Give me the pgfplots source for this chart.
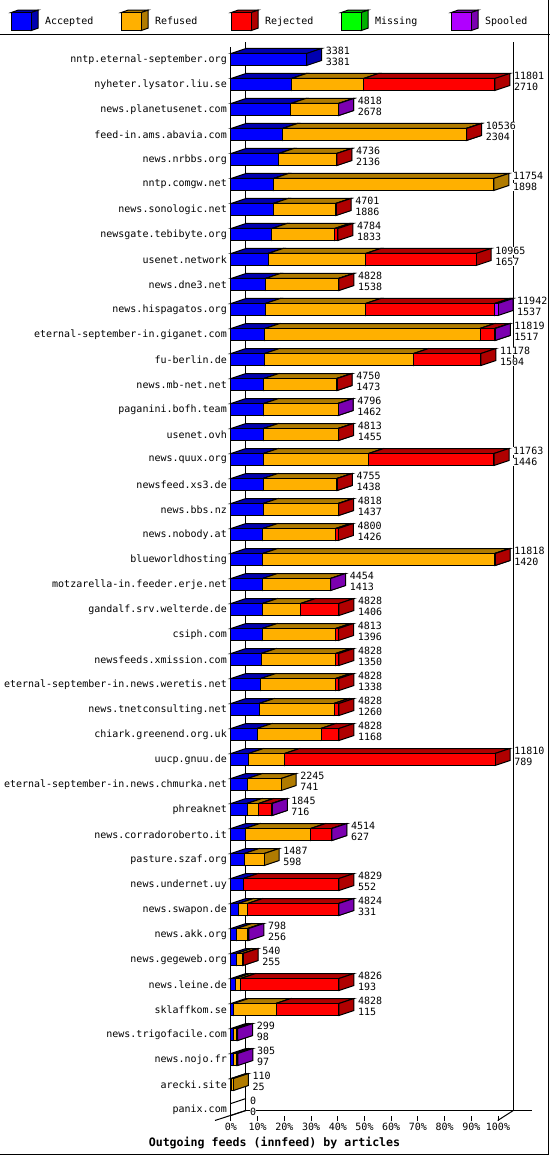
\documentclass[border=0pt]{standalone}
\usepackage{fontspec}
\setmainfont{DejaVu Sans Mono}
\usepackage{pgfplots}
\usepackage{pgfplotstable}
\pgfplotsset{compat=1.18}

% 1 pixel of the reference = 1pt here
\definecolor{acc}{HTML}{0000FF}
\definecolor{accd}{HTML}{0000B0}
\definecolor{ref}{HTML}{FFB000}
\definecolor{refd}{HTML}{B07B00}
\definecolor{rej}{HTML}{FF0000}
\definecolor{rejd}{HTML}{B00000}
\definecolor{mis}{HTML}{00FF00}
\definecolor{misd}{HTML}{00B000}
\definecolor{spo}{HTML}{B000FF}
\definecolor{spod}{HTML}{7B00B0}

\pgfplotstableread{
name total accepted refused rejected missing spooled
nntp.eternal-september.org 3381 3381 0 0 0 0
nyheter.lysator.liu.se 11801 2710 3224 5867 0 0
news.planetusenet.com 4818 2678 2130 0 0 10
feed-in.ams.abavia.com 10536 2304 8212 20 0 0
news.nrbbs.org 4736 2136 2590 10 0 0
nntp.comgw.net 11754 1898 9856 0 0 0
news.sonologic.net 4701 1886 2795 20 0 0
newsgate.tebibyte.org 4784 1833 2804 147 0 0
usenet.network 10965 1657 4367 4941 0 0
news.dne3.net 4828 1538 3263 27 0 0
news.hispagatos.org 11942 1537 4487 5770 0 148
eternal-september-in.giganet.com 11819 1517 9621 660 0 21
fu-berlin.de 11178 1504 6667 3007 0 0
news.mb-net.net 4750 1473 3257 20 0 0
paganini.bofh.team 4796 1462 3324 0 0 10
usenet.ovh 4813 1455 3338 20 0 0
news.quux.org 11763 1446 4712 5605 0 0
newsfeed.xs3.de 4755 1438 3297 20 0 0
news.bbs.nz 4818 1437 3361 20 0 0
news.nobody.at 4800 1426 3256 118 0 0
blueworldhosting 11818 1420 10378 20 0 0
motzarella-in.feeder.erje.net 4454 1413 3031 0 0 10
gandalf.srv.welterde.de 4828 1406 1710 1712 0 0
csiph.com 4813 1396 3286 131 0 0
newsfeeds.xmission.com 4828 1350 3332 146 0 0
eternal-september-in.news.weretis.net 4828 1338 3344 146 0 0
news.tnetconsulting.net 4828 1260 3347 221 0 0
chiark.greenend.org.uk 4828 1168 2858 802 0 0
uucp.gnuu.de 11810 789 1611 9410 0 0
eternal-september-in.news.chmurka.net 2245 741 1504 0 0 0
phreaknet 1845 716 521 582 0 26
news.corradoroberto.it 4514 627 2936 941 0 10
pasture.szaf.org 1487 598 889 0 0 0
news.undernet.uy 4829 552 0 4277 0 0
news.swapon.de 4824 331 414 4069 0 10
news.akk.org 798 256 489 0 0 53
news.gegeweb.org 540 255 267 18 0 0
news.leine.de 4826 193 239 4394 0 0
sklaffkom.se 4828 115 1898 2815 0 0
news.trigofacile.com 299 98 170 0 0 31
news.nojo.fr 305 97 158 0 0 50
arecki.site 110 25 85 0 0 0
panix.com 0 0 0 0 0 0
}\feeds

\pgfplotsset{
  feedaxis/.style={
    scale only axis,
    width=267pt,
    height=1073pt,
    xmin=0, xmax=11942,
    ymin=-0.48, ymax=42.44,
    y dir=reverse,
    clip=false,
  },
  faceplot/.style={forget plot, draw=black, line width=1pt, line join=miter, fill=#1, mark=none},
  legbox/.style 2 args={
    legend image code/.code={
      \draw[black, line width=1pt, fill=#2] (0pt,9pt) -- (7pt,11.5pt) -- (27pt,11.5pt) -- (20pt,9pt) -- cycle;
      \draw[black, line width=1pt, fill=#2] (20pt,9pt) -- (27pt,11.5pt) -- (27pt,-6.5pt) -- (20pt,-9pt) -- cycle;
      \draw[black, line width=1pt, fill=#1] (0pt,-9pt) rectangle (20pt,9pt);
    },
  },
}

% depth of the bars: 15px to the right, 5px up
\def\depthx{670.9}
% top and side face of one stacked segment
\newcommand\segfaces[3]{%
  \pgfplotstablegetelem{\rownum}{#1}\of\feeds
  \let\segval\pgfplotsretval
  \ifnum\segval>0
    \pgfmathsetmacro\xa{\cumul}%
    \pgfmathsetmacro\xb{\cumul+\segval}%
    \pgfmathsetmacro\xc{\xa+\depthx}%
    \pgfmathsetmacro\xd{\xb+\depthx}%
    \pgfmathsetmacro\yt{\rownum-0.24}%
    \pgfmathsetmacro\ybt{\rownum-0.44}%
    \pgfmathsetmacro\yb{\rownum+0.24}%
    \pgfmathsetmacro\ybb{\rownum+0.04}%
    \edef\temp{%
      \noexpand\addplot[faceplot=#2] coordinates {(\xa,\yt) (\xc,\ybt) (\xd,\ybt) (\xb,\yt)} --cycle;
      \noexpand\addplot[faceplot=#3] coordinates {(\xb,\yt) (\xd,\ybt) (\xd,\ybb) (\xb,\yb)} --cycle;
    }\temp
    \xdef\cumul{\xb}%
  \fi
}

\begin{document}
\begin{tikzpicture}[x=1pt,y=1pt]
  \useasboundingbox (-231,-34.5) rectangle (319,1120.5);
  % frame and legend rule
  \draw[line width=1pt] (-231,1085.5) -- (319,1085.5);
  \draw[line width=1pt] (317.5,1120.5) -- (317.5,-34) -- (-231,-34);
  % back wall and floor
  \draw[line width=1pt] (14.7,1078) -- (14.7,10);
  \draw[line width=1pt] (282.3,1078) -- (282.3,10);
  \draw[line width=1pt] (14.7,10) -- (301,10);
  \draw[line width=1pt] (-16,0) -- (14.7,10);
  \draw[line width=1pt] (266.7,0) -- (282.3,10);

  \begin{axis}[feedaxis, hide axis, at={(0,0)}]
    \pgfplotsforeachungrouped \rownum in {0,...,42}{%
      \xdef\cumul{0}%
      \segfaces{accepted}{accd}{accd}%
      \segfaces{refused}{refd}{refd}%
      \segfaces{rejected}{rejd}{rejd}%
      \segfaces{missing}{misd}{misd}%
      \segfaces{spooled}{spod}{spod}%
    }
    % panix.com has no articles at all
    \addplot[forget plot, black, line width=1pt, mark=none] coordinates {(0,41.76) (670.9,41.56)};
    \addplot[forget plot, black, line width=1pt, mark=none] coordinates {(0,42.24) (670.9,42.04)};
    % total over accepted, to the right of each bar
    \addplot[forget plot, draw=none, mark=none, nodes near coords, point meta=explicit symbolic,
      every node near coord/.style={anchor=west, fill=white, inner sep=0pt, xshift=19pt, yshift=8.5pt}]
      table[x=total, y expr=\coordindex, meta=total] {\feeds};
    \addplot[forget plot, draw=none, mark=none, nodes near coords, point meta=explicit symbolic,
      every node near coord/.style={anchor=west, fill=white, inner sep=0pt, xshift=19pt, yshift=-2.5pt}]
      table[x=total, y expr=\coordindex, meta=accepted] {\feeds};
  \end{axis}

  \begin{axis}[feedaxis, at={(0,0)},
    xbar stacked,
    bar width=12pt,
    axis y line=left,
    axis x line=bottom,
    axis line style={-, line width=1pt},
    x axis line style={draw=none},
    tick style={black, line width=1pt},
    tick align=inside,
    major tick length=5pt,
    ytick={0,...,42},
    yticklabels from table={\feeds}{name},
    y tick style={draw=none},
    yticklabel style={inner xsep=0pt, xshift=-4pt},
    scaled x ticks=false,
    xtick={0,1194.2,2388.4,3582.6,4776.8,5971,7165.2,8359.4,9553.6,10747.8,11942},
    xticklabels={0\%,10\%,20\%,30\%,40\%,50\%,60\%,70\%,80\%,90\%,100\%},
    xticklabel style={inner ysep=0pt, yshift=-2pt},
    xlabel={\bfseries\fontsize{11.6}{13}\selectfont Outgoing feeds (innfeed) by articles},
    xlabel style={xshift=-90pt, inner ysep=0pt, yshift=-7pt},
    legend columns=5,
    legend style={at={(-0.826,1.0355)}, anchor=north west, draw=none, fill=none, inner sep=0pt,
      /tikz/every even column/.append style={column sep=11pt},
      /tikz/every odd column/.append style={column sep=4.5pt}},
  ]
    \addplot[draw=black, line width=1pt, fill=acc, legbox={acc}{accd}] table[x=accepted, y expr=\coordindex] {\feeds};
    \addlegendentry{\makebox[62.5pt][l]{Accepted}}
    \addplot[draw=black, line width=1pt, fill=ref, legbox={ref}{refd}] table[x=refused, y expr=\coordindex] {\feeds};
    \addlegendentry{\makebox[62.5pt][l]{Refused}}
    \addplot[draw=black, line width=1pt, fill=rej, legbox={rej}{rejd}] table[x=rejected, y expr=\coordindex] {\feeds};
    \addlegendentry{\makebox[62.5pt][l]{Rejected}}
    \addplot[draw=black, line width=1pt, fill=mis, legbox={mis}{misd}] table[x=missing, y expr=\coordindex] {\feeds};
    \addlegendentry{\makebox[62.5pt][l]{Missing}}
    \addplot[draw=black, line width=1pt, fill=spo, legbox={spo}{spod}] table[x=spooled, y expr=\coordindex] {\feeds};
    \addlegendentry{\makebox[62.5pt][l]{Spooled}}
  \end{axis}
\end{tikzpicture}
\end{document}
